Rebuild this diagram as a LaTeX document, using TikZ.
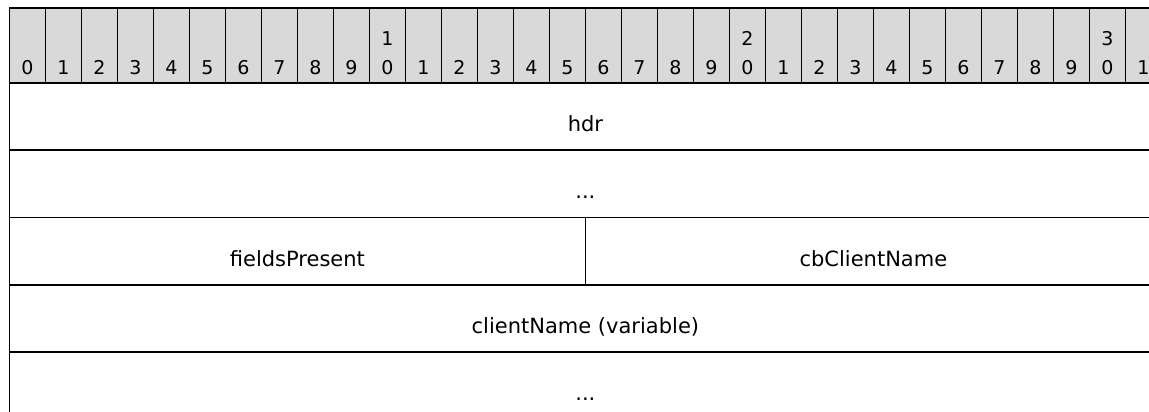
\documentclass[tikz,border=0pt]{standalone}
\usepackage{fontspec}
\setmainfont{DejaVu Sans}
\definecolor{hdrgray}{RGB}{217,217,217}
\newcommand\bitnum[2]{\begin{tabular}[b]{@{}c@{}}#1\\[6pt]#2\end{tabular}}
\tikzset{
  bitcell/.style={draw, line width=1.8pt, fill=hdrgray, anchor=north west, inner sep=0pt,
    minimum width=36pt, minimum height=75pt, text height=67pt, text depth=8pt,
    font=\fontsize{19}{23}\selectfont},
  rowbox/.style={draw, line width=1.8pt, anchor=north west, inner sep=0pt,
    minimum height=67.25pt, text height=30pt, text depth=0pt,
    font=\fontsize{21}{25}\selectfont},
}
\begin{document}
\begin{tikzpicture}[x=1pt, y=-1pt]
\clip (0,0) rectangle (1149,412);
\fill[white] (0,0) rectangle (1149,412);
\foreach \i in {0,...,31}{
  \pgfmathsetmacro\xx{8.5+36*\i}
  \pgfmathtruncatemacro\tens{\i/10}
  \pgfmathtruncatemacro\ones{mod(\i,10)}
  \ifnum\i>9 \ifnum\ones=0
    \node[bitcell] (h\i) at (\xx,7) {\bitnum{\tens}{\ones}};
  \else
    \node[bitcell] (h\i) at (\xx,7) {\ones};
  \fi \else
    \node[bitcell] (h\i) at (\xx,7) {\ones};
  \fi
}
\node[rowbox, minimum width=1152pt] (r1) at (8.5,82) {hdr};
\node[rowbox, minimum width=1152pt] (r2) at (8.5,149.25) {...};
\node[rowbox, minimum width=576pt] (r3a) at (8.5,216.5) {fieldsPresent};
\node[rowbox, minimum width=576pt] (r3b) at (584.5,216.5) {cbClientName};
\node[rowbox, minimum width=1152pt] (r4) at (8.5,283.75) {clientName (variable)};
\node[rowbox, minimum width=1152pt] (r5) at (8.5,351) {...};
\end{tikzpicture}
\end{document}
